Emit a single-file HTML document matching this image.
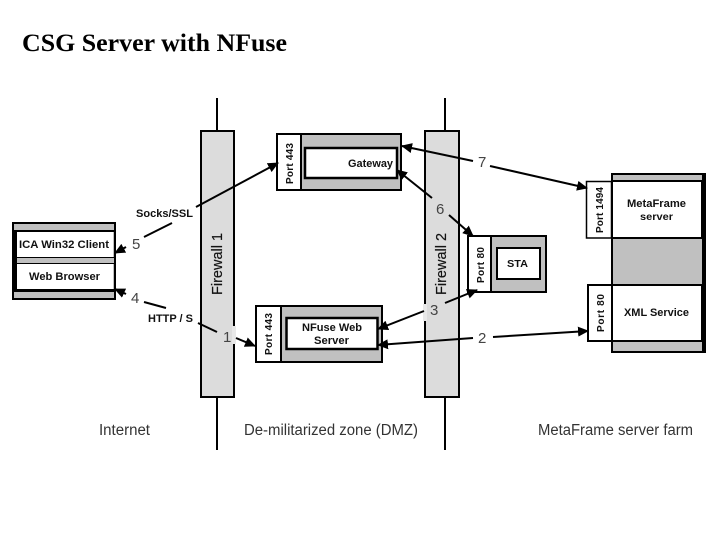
<!DOCTYPE html>
<html><head><meta charset="utf-8"><style>
html,body{margin:0;padding:0;background:#fff}
svg{display:block}
text{font-family:"Liberation Sans",sans-serif;fill:#111}
.b{font-weight:bold}
.n{font-size:15px;fill:#444}
.z{font-size:15.400px;fill:#333}
</style></head><body>
<svg width="720" height="540" viewBox="0 0 720 540" xmlns="http://www.w3.org/2000/svg">
<defs><marker id="a" markerWidth="11" markerHeight="10" refX="10" refY="5" orient="auto" markerUnits="userSpaceOnUse"><path d="M0 0L11 5L0 10Z" fill="#000"/></marker></defs>
<text x="22" y="51" textLength="265" lengthAdjust="spacingAndGlyphs" style="font-family:'Liberation Serif',serif;font-size:25px;font-weight:bold;fill:#000">CSG Server with NFuse</text>

<!-- Firewalls -->
<path d="M217 98V131M217 397V450M445 98V131M445 397V450" stroke="#000" stroke-width="2"/>
<rect x="201" y="131" width="33" height="266" fill="#dcdcdc" stroke="#000" stroke-width="2"/>
<rect x="425" y="131" width="34" height="266" fill="#dcdcdc" stroke="#000" stroke-width="2"/>
<rect x="232" y="326" width="4" height="18" fill="#e8e8e8"/>
<rect x="423" y="304" width="4" height="17" fill="#e8e8e8"/>
<text transform="translate(222,295) rotate(-90)" font-size="14.5" fill="#222" stroke="#222" stroke-width="0.2">Firewall 1</text>
<text transform="translate(446,295) rotate(-90)" font-size="14.5" fill="#222" stroke="#222" stroke-width="0.2">Firewall 2</text>

<!-- Gateway -->
<rect x="277" y="134" width="124" height="56" fill="#c0c0c0" stroke="#000" stroke-width="2"/>
<rect x="277" y="134" width="24" height="56" fill="#fff" stroke="#000" stroke-width="2"/>
<rect x="305" y="148" width="92" height="30" fill="#fff" stroke="#000" stroke-width="2.500"/>
<text x="348" y="167" font-size="11" class="b" textLength="45" lengthAdjust="spacingAndGlyphs">Gateway</text>
<text transform="translate(293,184) rotate(-90)" font-size="10" class="b" textLength="41">Port 443</text>

<!-- NFuse -->
<rect x="256" y="306" width="126" height="56" fill="#c0c0c0" stroke="#000" stroke-width="2"/>
<rect x="256" y="306" width="25" height="56" fill="#fff" stroke="#000" stroke-width="2"/>
<rect x="286.500" y="318" width="91" height="31" fill="#fff" stroke="#000" stroke-width="2.500"/>
<text x="302" y="331" font-size="11" class="b" textLength="60" lengthAdjust="spacingAndGlyphs">NFuse Web</text>
<text x="314" y="344" font-size="11" class="b" textLength="35" lengthAdjust="spacingAndGlyphs">Server</text>
<text transform="translate(272,355) rotate(-90)" font-size="10" class="b" textLength="42">Port 443</text>

<!-- STA -->
<rect x="468" y="236" width="78" height="56" fill="#c0c0c0" stroke="#000" stroke-width="2"/>
<rect x="468" y="236" width="23" height="56" fill="#fff" stroke="#000" stroke-width="2"/>
<rect x="497" y="248" width="43" height="31" fill="#fff" stroke="#000" stroke-width="2"/>
<text x="507" y="267" font-size="10.5" class="b" textLength="21" lengthAdjust="spacingAndGlyphs">STA</text>
<text transform="translate(484,283) rotate(-90)" font-size="10" class="b" textLength="36">Port 80</text>

<!-- MetaFrame -->
<rect x="612" y="174" width="93" height="178" fill="#c0c0c0" stroke="#000" stroke-width="2"/>
<rect x="612" y="181" width="90" height="57" fill="#fff" stroke="#000" stroke-width="2"/>
<rect x="612" y="285" width="90" height="56" fill="#fff" stroke="#000" stroke-width="2"/>
<rect x="702" y="174" width="4" height="178" fill="#000"/>
<rect x="586.500" y="181.500" width="25" height="56.500" fill="#fff" stroke="#000" stroke-width="1.500"/>
<rect x="588" y="285" width="24" height="56" fill="#fff" stroke="#000" stroke-width="2"/>
<text x="627" y="207" font-size="11" class="b" textLength="59" lengthAdjust="spacingAndGlyphs">MetaFrame</text>
<text x="640" y="220" font-size="10.500" class="b" textLength="33" lengthAdjust="spacingAndGlyphs">server</text>
<text x="624" y="316" font-size="11" class="b" textLength="65" lengthAdjust="spacingAndGlyphs">XML Service</text>
<text transform="translate(603,233) rotate(-90)" font-size="10" class="b" textLength="46">Port 1494</text>
<text transform="translate(604,332) rotate(-90)" font-size="10" class="b" textLength="38">Port 80</text>

<!-- Client -->
<rect x="13" y="223" width="102" height="76" fill="#c0c0c0" stroke="#000" stroke-width="2"/>
<rect x="12" y="230" width="5" height="62" fill="#000"/>
<rect x="12" y="289" width="104" height="3" fill="#000"/>
<rect x="12" y="230" width="104" height="2" fill="#000"/>
<rect x="12" y="257" width="104" height="1" fill="#000"/>
<rect x="12" y="263" width="104" height="1" fill="#000"/>
<rect x="17" y="232" width="96" height="25" fill="#fff"/>
<rect x="17" y="264" width="96" height="25" fill="#fff"/>
<text x="19" y="248" font-size="11" class="b" textLength="90" lengthAdjust="spacingAndGlyphs">ICA Win32 Client</text>
<text x="29" y="280" font-size="11" class="b" textLength="71" lengthAdjust="spacingAndGlyphs">Web Browser</text>

<!-- Connectors -->
<g stroke="#000" stroke-width="2" fill="none">
<path d="M196 207L278 163" marker-end="url(#a)"/>
<path d="M172 223L144 237"/>
<path d="M126 247L115 253" marker-end="url(#a)"/>
<path d="M126 294L115 289" marker-end="url(#a)"/>
<path d="M144 302L166 308"/>
<path d="M198 323L217 332"/>
<path d="M236 338L255 346" marker-end="url(#a)"/>
<path d="M473 161L402 146" marker-end="url(#a)"/>
<path d="M490 166L587 188" marker-end="url(#a)"/>
<path d="M432 198L397 170" marker-end="url(#a)"/>
<path d="M449 215L473 236" marker-end="url(#a)"/>
<path d="M445 303L477 290" marker-end="url(#a)"/>
<path d="M424 311L378 329" marker-end="url(#a)"/>
<path d="M473 338L378 345" marker-end="url(#a)"/>
<path d="M493 337L588 331" marker-end="url(#a)"/>
</g>

<!-- Labels -->
<text x="136" y="217" font-size="11" class="b" textLength="57" lengthAdjust="spacingAndGlyphs">Socks/SSL</text>
<text x="148" y="322" font-size="11" class="b" textLength="45" lengthAdjust="spacingAndGlyphs">HTTP / S</text>
<text x="132" y="249" class="n">5</text>
<text x="131" y="303" class="n">4</text>
<text x="223" y="342" class="n">1</text>
<text x="478" y="343" class="n">2</text>
<text x="430" y="315" class="n">3</text>
<text x="436" y="214" class="n">6</text>
<text x="478" y="167" class="n">7</text>
<text x="99" y="435" class="z" textLength="51" lengthAdjust="spacingAndGlyphs">Internet</text>
<text x="244" y="435" class="z" textLength="174" lengthAdjust="spacingAndGlyphs">De-militarized zone (DMZ)</text>
<text x="538" y="435" class="z" textLength="155" lengthAdjust="spacingAndGlyphs">MetaFrame server farm</text>
</svg>
</body></html>
